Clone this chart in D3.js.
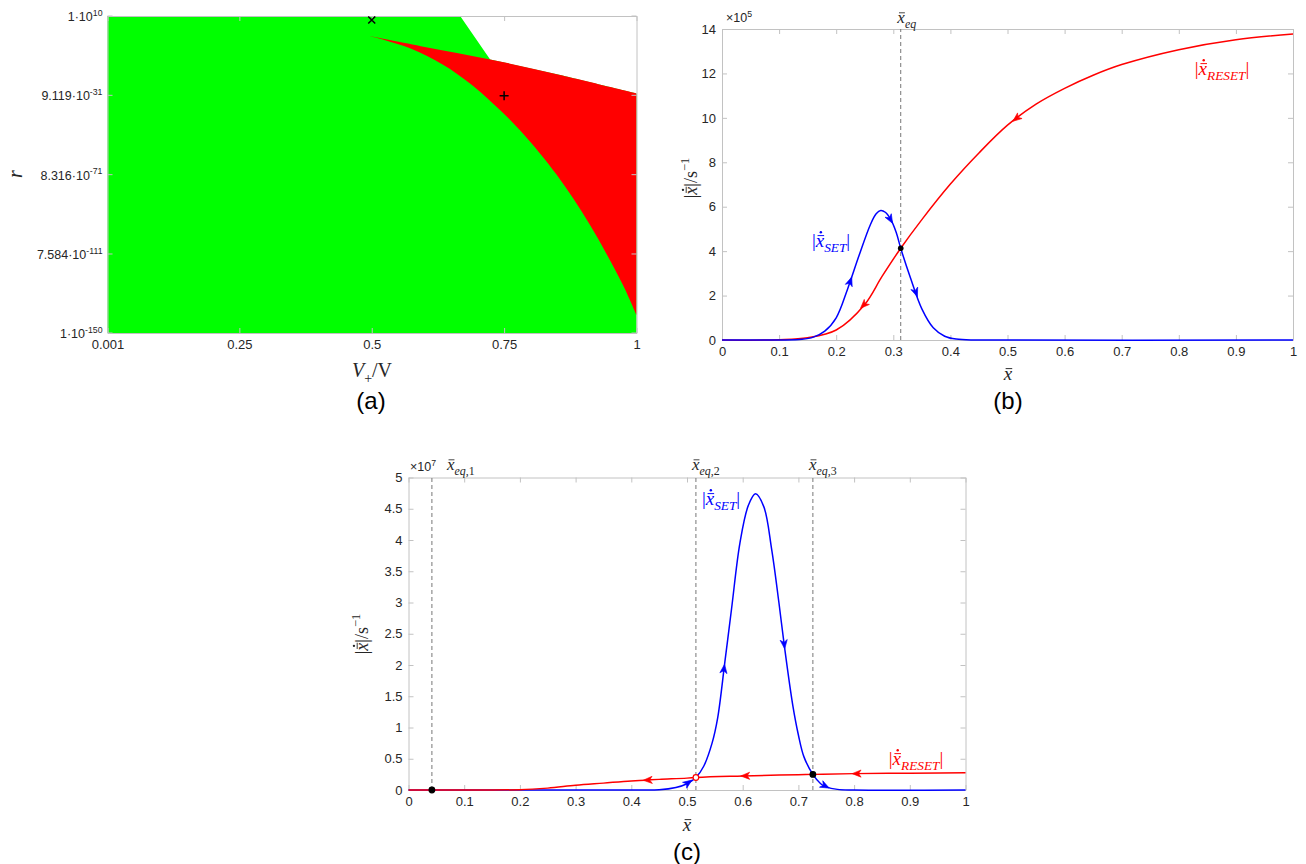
<!DOCTYPE html>
<html>
<head>
<meta charset="utf-8">
<script src="https://cdn.jsdelivr.net/npm/d3@7"></script>
<style>
body { margin: 0; background: #fff; }
.ax path, .ax line { stroke: #c2c2c2; }
.ax text { fill: #262626; font-size: 13px; font-family: "Liberation Sans", Arial, sans-serif; }
</style>
</head>
<body>
<svg width="1306" height="864"></svg>
<script>
// ---- panel (a): stability map, r (log) vs V+/V
var aXTicks = [0.001, 0.25, 0.5, 0.75, 1];
var aYMant = ["1", "9.119", "8.316", "7.584", "1"];
var aYExp = [10, -31, -71, -111, -150];
// boundaries, log10(r)
var greenTopV = [0.001, 0.667, 0.7236, 0.856, 1];
var greenTopLogR = [10, 10, -11.9, -19.8, -29.1];
var redTopV = [0.496, 0.6, 0.7236, 0.856, 1];
var redTopLogR = [-0.1, -5.6, -11.9, -19.8, -29.1];
var redLowV = [0.496, 0.5723, 0.6346, 0.6856, 0.7422, 0.78, 0.8177, 0.8493, 0.8806, 0.9122, 0.9437, 0.9751, 1];
var redLowLogR = [-0.1, -6.25, -14.6, -24.1, -37.45, -47.7, -59.35, -70.15, -82.1, -95.5, -110.2, -126.1, -140.9];
var crossMark = [0.5, 8];
var plusMark = [0.75, -30.3];

// ---- panel (b)
var bXTicks = [0, 0.1, 0.2, 0.3, 0.4, 0.5, 0.6, 0.7, 0.8, 0.9, 1];
var bYTicks = [0, 2, 4, 6, 8, 10, 12, 14];
var bSetX = [0, 0.1, 0.14, 0.16, 0.18, 0.2, 0.22, 0.24, 0.26, 0.27, 0.278, 0.286, 0.295, 0.305, 0.313, 0.33, 0.35, 0.37, 0.39, 0.41, 0.45, 1];
var bSetY = [0, 0, 0.03, 0.13, 0.4, 1.0, 2.3, 3.8, 5.2, 5.68, 5.83, 5.75, 5.45, 4.85, 4.13, 2.8, 1.4, 0.55, 0.17, 0.04, 0, 0];
var bResetX = [0, 0.1, 0.15, 0.2, 0.25, 0.28, 0.313, 0.35, 0.4, 0.45, 0.5, 0.55, 0.6, 0.65, 0.7, 0.8, 0.9, 1];
var bResetY = [0, 0.01, 0.1, 0.45, 1.6, 2.85, 4.13, 5.42, 7.02, 8.42, 9.67, 10.62, 11.33, 11.92, 12.4, 13.07, 13.52, 13.77];
var bEq = [0.313];
var bEqY = [4.13];
// arrows: [x tail, y tail, x head, y head]
var bSetArrows = [[0.22, 2.3, 0.226, 2.75], [0.29, 5.65, 0.297, 5.33], [0.335, 2.45, 0.341, 2.03]];
var bResetArrows = [[0.53, 10.27, 0.512, 9.9], [0.255, 1.75, 0.245, 1.49]];

// ---- panel (c)
var cXTicks = [0, 0.1, 0.2, 0.3, 0.4, 0.5, 0.6, 0.7, 0.8, 0.9, 1];
var cYTicks = [0, 0.5, 1, 1.5, 2, 2.5, 3, 3.5, 4, 4.5, 5];
var cSetX = [0, 0.4, 0.45, 0.48, 0.5, 0.516, 0.53, 0.545, 0.555, 0.568, 0.58, 0.595, 0.61, 0.623, 0.638, 0.652, 0.665, 0.675, 0.69, 0.7, 0.71, 0.726, 0.74, 0.75, 0.77, 0.8, 1];
var cSetY = [0, 0, 0.003, 0.04, 0.1, 0.2, 0.38, 0.75, 1.15, 2.05, 2.9, 3.95, 4.55, 4.74, 4.53, 3.85, 3.0, 2.29, 1.35, 0.88, 0.53, 0.25, 0.1, 0.05, 0.01, 0, 0];
var cResetX = [0, 0.15, 0.2, 0.25, 0.3, 0.35, 0.4, 0.425, 0.45, 0.5, 0.516, 0.6, 0.7, 0.726, 0.8, 0.9, 1];
var cResetY = [0, 0, 0.005, 0.03, 0.075, 0.11, 0.145, 0.157, 0.17, 0.19, 0.2, 0.225, 0.245, 0.25, 0.262, 0.27, 0.276];
var cEq = [0.042, 0.516, 0.726];
var cEqY = [0, 0.2, 0.25];
var cEqStable = [true, false, true];
var cSetArrows = [[0.498, 0.09, 0.506, 0.14], [0.563, 1.7, 0.567, 1.98], [0.671, 2.6, 0.675, 2.29], [0.74, 0.1, 0.752, 0.045]];
var cResetArrows = [[0.44, 0.163, 0.425, 0.157], [0.615, 0.228, 0.6, 0.225], [0.815, 0.263, 0.8, 0.262]];

var BLUE = "#0000ff", RED = "#ff0000";
var SERIF = "'Liberation Serif','DejaVu Serif',serif";
var SANS = "'Liberation Sans',Arial,sans-serif";
var svg = d3.select("svg");

function drawFrame(g, x, y, xt, yt, xf, yf) {
  var x0 = x.range()[0], x1 = x.range()[1], y0 = y.range()[0], y1 = y.range()[1];
  g.append("g").attr("class", "ax").attr("transform", "translate(0," + y0 + ")")
    .call(d3.axisBottom(x).tickValues(xt).tickSizeInner(-5).tickSizeOuter(0).tickPadding(7).tickFormat(xf));
  g.append("g").attr("class", "ax").attr("transform", "translate(0," + y1 + ")")
    .call(d3.axisTop(x).tickValues(xt).tickSizeInner(-5).tickSizeOuter(0).tickFormat(""));
  g.append("g").attr("class", "ax").attr("transform", "translate(" + x0 + ",0)")
    .call(d3.axisLeft(y).tickValues(yt).tickSizeInner(-5).tickSizeOuter(0).tickPadding(6).tickFormat(yf));
  g.append("g").attr("class", "ax").attr("transform", "translate(" + x1 + ",0)")
    .call(d3.axisRight(y).tickValues(yt).tickSizeInner(-5).tickSizeOuter(0).tickFormat(""));
}

// text made of segments; deco "bar" / "dotbar" puts accents over a char
function mathText(g, px, py, segs, size, color, anchor, rot, font) {
  var grp = g.append("g").attr("transform", "translate(" + px + "," + py + ")" + (rot ? " rotate(-90)" : ""));
  var t = grp.append("text").attr("text-anchor", anchor || "middle")
    .attr("font-family", font || SERIF).attr("font-size", size).attr("fill", color);
  var shift = 0, idx = 0, decos = [];
  segs.forEach(function(s) {
    var target = s.sub ? size * 0.28 : (s.sup ? -size * 0.42 : 0);
    t.append("tspan").text(s.t).attr("dy", target - shift)
      .attr("font-size", (s.sub || s.sup) ? size * 0.7 : size)
      .attr("font-style", s.it ? "italic" : "normal");
    shift = target;
    if (s.deco) decos.push({i: idx, d: s.deco});
    idx += s.t.length;
  });
  decos.forEach(function(d) {
    var b = t.node().getExtentOfChar(d.i);
    var bx0 = b.x + b.width * 0.22, bx1 = b.x + b.width * 1.0;
    grp.append("line").attr("x1", bx0).attr("x2", bx1)
      .attr("y1", -size * 0.6).attr("y2", -size * 0.6)
      .attr("stroke", color).attr("stroke-width", size * 0.05);
    if (d.d === "dotbar") {
      grp.append("circle").attr("cx", (bx0 + bx1) / 2).attr("cy", -size * 0.78)
        .attr("r", size * 0.065).attr("fill", color);
    }
  });
  return grp;
}

function arrowHead(g, x, y, a, color) {
  var x0 = x(a[0]), y0 = y(a[1]), x1 = x(a[2]), y1 = y(a[3]);
  var ang = Math.atan2(y1 - y0, x1 - x0) * 180 / Math.PI;
  g.append("path").attr("d", "M2,0L-7,-3.6L-4.5,0L-7,3.6Z")
    .attr("fill", color).attr("stroke", color).attr("stroke-width", 0.6)
    .attr("transform", "translate(" + x1 + "," + y1 + ") rotate(" + ang + ")");
}

var xdot = [{t: "x", it: true, deco: "dotbar"}];
function rateLabel(name) {
  return [{t: "|"}].concat(xdot, [{t: name, it: true, sub: true}, {t: "|"}]);
}

// ================= panel (a)
var ga = svg.append("g");
var ax = d3.scaleLinear().domain([0.001, 1]).range([107.5, 636.5]);
var ay = d3.scaleLog().domain([1e-150, 1e10]).range([333, 16]);
var aLine = d3.line().x(function(d) { return ax(d[0]); })
  .y(function(d) { return ay(Math.pow(10, d[1])); });
var aCurve = d3.line().x(function(d) { return ax(d[0]); })
  .y(function(d) { return ay(Math.pow(10, d[1])); }).curve(d3.curveCatmullRom.alpha(0.5));

var greenPts = greenTopV.map(function(v, i) { return [v, greenTopLogR[i]]; });
greenPts.push([1, -150], [0.001, -150]);
ga.append("path").attr("d", aLine(greenPts) + "Z").attr("fill", "#00ff00");

var redTop = redTopV.map(function(v, i) { return [v, redTopLogR[i]]; });
var redLow = redLowV.map(function(v, i) { return [v, redLowLogR[i]]; }).reverse();
ga.append("path").attr("d", aCurve(redTop) + "L" + aCurve(redLow).slice(1) + "Z").attr("fill", RED);

drawFrame(ga, ax, ay, aXTicks, [], function(d) { return String(d); }, "");
// log ticks with mantissa·10^exp
var aYVals = aYMant.map(function(m, i) { return +m * Math.pow(10, aYExp[i]); });
aYVals.forEach(function(v, i) {
  ga.append("line").attr("x1", ax.range()[0]).attr("x2", ax.range()[0] + 5)
    .attr("y1", ay(v)).attr("y2", ay(v)).attr("stroke", "#c2c2c2");
  ga.append("line").attr("x1", ax.range()[1]).attr("x2", ax.range()[1] - 5)
    .attr("y1", ay(v)).attr("y2", ay(v)).attr("stroke", "#c2c2c2");
  mathText(ga, ax.range()[0] - 5, ay(v) + 5, [{t: aYMant[i] + "\u00b710"}, {t: String(aYExp[i]), sup: true}],
    12.5, "#262626", "end", false, SANS);
});
var cx = ax(crossMark[0]), cy = ay(Math.pow(10, crossMark[1]));
ga.append("path").attr("d", "M" + (cx - 3.5) + "," + (cy - 3.5) + "L" + (cx + 3.5) + "," + (cy + 3.5) +
  "M" + (cx - 3.5) + "," + (cy + 3.5) + "L" + (cx + 3.5) + "," + (cy - 3.5)).attr("stroke", "#000").attr("stroke-width", 1.5);
var px = ax(plusMark[0]), py = ay(Math.pow(10, plusMark[1]));
ga.append("path").attr("d", "M" + (px - 4.5) + "," + py + "L" + (px + 4.5) + "," + py +
  "M" + px + "," + (py - 4.5) + "L" + px + "," + (py + 4.5)).attr("stroke", "#000").attr("stroke-width", 1.5);
mathText(ga, 22, 174, [{t: "r", it: true}], 20, "#262626", "middle", true);
mathText(ga, 372, 377, [{t: "V", it: true}, {t: "+", sub: true}, {t: "/V"}], 20, "#262626", "middle");
ga.append("text").attr("x", 371).attr("y", 409).attr("text-anchor", "middle")
  .attr("font-family", SANS).attr("font-size", 24).text("(a)");

// ================= panel (b)
var gb = svg.append("g");
var bx = d3.scaleLinear().domain([0, 1]).range([722, 1293]);
var by = d3.scaleLinear().domain([0, 14]).range([340, 29]);
drawFrame(gb, bx, by, bXTicks, bYTicks, function(d) { return String(d); }, function(d) { return String(d); });
gb.selectAll(".eq").data(bEq).enter().append("line")
  .attr("x1", function(d) { return bx(d); }).attr("x2", function(d) { return bx(d); })
  .attr("y1", by.range()[0]).attr("y2", by.range()[1])
  .attr("stroke", "#777").attr("stroke-width", 1).attr("stroke-dasharray", "4,3");
var mono = d3.line().curve(d3.curveMonotoneX);
var smooth = d3.line().curve(d3.curveCatmullRom.alpha(0.5));
gb.append("path").attr("fill", "none").attr("stroke", RED).attr("stroke-width", 1.5)
  .attr("d", smooth(bResetX.map(function(v, i) { return [bx(v), by(bResetY[i])]; })));
gb.append("path").attr("fill", "none").attr("stroke", BLUE).attr("stroke-width", 1.5)
  .attr("d", smooth(bSetX.map(function(v, i) { return [bx(v), by(bSetY[i])]; })));
bSetArrows.forEach(function(a) { arrowHead(gb, bx, by, a, BLUE); });
bResetArrows.forEach(function(a) { arrowHead(gb, bx, by, a, RED); });
bEq.forEach(function(v, i) {
  gb.append("circle").attr("cx", bx(v)).attr("cy", by(bEqY[i])).attr("r", 2.8).attr("fill", "#000");
});
mathText(gb, bx(bEq[0]) + 6, 23, [{t: "x", it: true, deco: "bar"}, {t: "eq", it: true, sub: true}], 17, "#262626", "middle");
mathText(gb, 726, 22, [{t: "\u00d710"}, {t: "5", sup: true}], 12.5, "#262626", "start", false, SANS);
mathText(gb, 831, 247, rateLabel("SET"), 19, BLUE, "middle");
mathText(gb, 1222, 75, rateLabel("RESET"), 19, RED, "middle");
mathText(gb, 697, 178, [{t: "|"}].concat(xdot, [{t: "|/s"}, {t: "\u22121", sup: true}]), 18, "#262626", "middle", true);
mathText(gb, 1008, 380, [{t: "x", it: true, deco: "bar"}], 19, "#262626", "middle");
gb.append("text").attr("x", 1008).attr("y", 409).attr("text-anchor", "middle")
  .attr("font-family", SANS).attr("font-size", 24).text("(b)");

// ================= panel (c)
var gc = svg.append("g");
var cx2 = d3.scaleLinear().domain([0, 1]).range([408.5, 965.5]);
var cy2 = d3.scaleLinear().domain([0, 5]).range([790, 477.5]);
drawFrame(gc, cx2, cy2, cXTicks, cYTicks, function(d) { return String(d); }, function(d) { return String(d); });
gc.selectAll(".eq").data(cEq).enter().append("line")
  .attr("x1", function(d) { return cx2(d); }).attr("x2", function(d) { return cx2(d); })
  .attr("y1", cy2.range()[0]).attr("y2", cy2.range()[1])
  .attr("stroke", "#777").attr("stroke-width", 1).attr("stroke-dasharray", "4,3");
gc.append("path").attr("fill", "none").attr("stroke", BLUE).attr("stroke-width", 1.5)
  .attr("d", smooth(cSetX.map(function(v, i) { return [cx2(v), cy2(cSetY[i])]; })));
gc.append("path").attr("fill", "none").attr("stroke", RED).attr("stroke-width", 1.5)
  .attr("d", mono(cResetX.map(function(v, i) { return [cx2(v), cy2(cResetY[i])]; })));
cSetArrows.forEach(function(a) { arrowHead(gc, cx2, cy2, a, BLUE); });
cResetArrows.forEach(function(a) { arrowHead(gc, cx2, cy2, a, RED); });
cEq.forEach(function(v, i) {
  gc.append("circle").attr("cx", cx2(v)).attr("cy", cy2(cEqY[i])).attr("r", 2.8)
    .attr("fill", cEqStable[i] ? "#000" : "#fff").attr("stroke", cEqStable[i] ? "#000" : RED).attr("stroke-width", 1.2);
});
var eqNames = [",1", ",2", ",3"];
var eqLabelOff = [15, -4, -4];
cEq.forEach(function(v, i) {
  mathText(gc, cx2(v) + eqLabelOff[i], 470, [{t: "x", it: true, deco: "bar"}, {t: "eq", it: true, sub: true}, {t: eqNames[i], sub: true}],
    17, "#262626", "start");
});
mathText(gc, 410, 471, [{t: "\u00d710"}, {t: "7", sup: true}], 12.5, "#262626", "start", false, SANS);
mathText(gc, 721, 505, rateLabel("SET"), 19, BLUE, "middle");
mathText(gc, 916, 765, rateLabel("RESET"), 19, RED, "middle");
mathText(gc, 368, 634, [{t: "|"}].concat(xdot, [{t: "|/s"}, {t: "\u22121", sup: true}]), 18, "#262626", "middle", true);
mathText(gc, 687, 831, [{t: "x", it: true, deco: "bar"}], 19, "#262626", "middle");
gc.append("text").attr("x", 687).attr("y", 860).attr("text-anchor", "middle")
  .attr("font-family", SANS).attr("font-size", 24).text("(c)");
</script>
</body>
</html>
